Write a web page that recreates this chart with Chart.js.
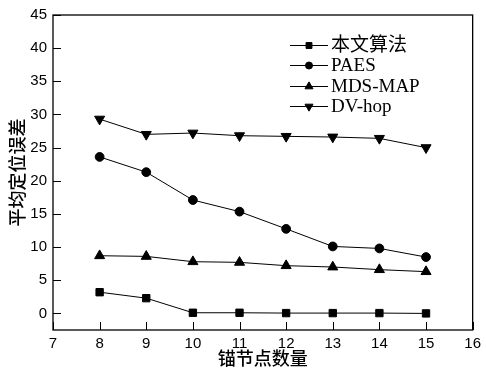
<!DOCTYPE html>
<html>
<head>
<meta charset="utf-8">
<script src="https://cdn.jsdelivr.net/npm/chart.js@4/dist/chart.umd.min.js"></script>
<style>
  html, body { margin: 0; padding: 0; background: #ffffff; }
  #wrap { width: 486px; height: 372px; position: relative; }
</style>
</head>
<body>
<div id="wrap"><canvas id="c"></canvas></div>
<script>
// Anchor node count (x) and mean localisation error (y) for each algorithm
const anchorCounts = [8, 9, 10, 11, 12, 13, 14, 15];
const oursError    = [3.2, 2.3, 0.1, 0.1, 0.05, 0.05, 0.05, 0.0];
const paesError    = [23.6, 21.3, 17.1, 15.35, 12.75, 10.1, 9.8, 8.5];
const mdsMapError  = [8.7, 8.6, 7.8, 7.7, 7.2, 7.0, 6.6, 6.3];
const dvHopError   = [29.3, 27.0, 27.2, 26.8, 26.7, 26.6, 26.4, 25.0];
const seriesNames  = ['本文算法', 'PAES', 'MDS-MAP', 'DV-hop'];
const xTickValues  = [7, 8, 9, 10, 11, 12, 13, 14, 15, 16];
const yTickValues  = [0, 5, 10, 15, 20, 25, 30, 35, 40, 45];
const xTitle = '锚节点数量';
const yTitle = '平均定位误差';

const toPoints = vals => anchorCounts.map((x, i) => ({ x: x, y: vals[i] }));

const markerStyles = [
  { pointStyle: 'rect', radius: 5.2, rotation: 0 },
  { pointStyle: 'circle', radius: 4.4, rotation: 0 },
  { pointStyle: 'triangle', radius: 5.8, rotation: 0 },
  { pointStyle: 'triangle', radius: 5.8, rotation: 180 }
];
const seriesValues = [oursError, paesError, mdsMapError, dvHopError];

const datasets = seriesValues.map((vals, i) => ({
  label: seriesNames[i],
  data: toPoints(vals),
  borderColor: '#000',
  backgroundColor: '#000',
  borderWidth: 1,
  pointStyle: markerStyles[i].pointStyle,
  pointRadius: markerStyles[i].radius,
  pointRotation: markerStyles[i].rotation,
  pointBackgroundColor: '#000',
  pointBorderColor: '#000',
  pointBorderWidth: 1,
  tension: 0
}));

const tickFont = { family: '"Liberation Sans", Arial, sans-serif', size: 15 };
const titleFont = { family: '"Noto Sans CJK SC", sans-serif', size: 18, weight: '500' };
const hiddenGrid = { display: true, drawOnChartArea: false, drawTicks: false, color: 'rgba(0,0,0,0)' };

// Frame around the plot area plus inward-pointing tick marks
const framePlugin = {
  id: 'frame',
  afterDraw(chart) {
    const { ctx, chartArea: a, scales } = chart;
    ctx.save();
    ctx.strokeStyle = '#000';
    ctx.lineWidth = 1.3;
    ctx.strokeRect(a.left, a.top, a.right - a.left, a.bottom - a.top);
    ctx.lineWidth = 1;
    const len = 8;
    ctx.beginPath();
    xTickValues.forEach(v => {
      const px = Math.round(scales.x.getPixelForValue(v)) + 0.5;
      ctx.moveTo(px, a.bottom);
      ctx.lineTo(px, a.bottom - len);
    });
    yTickValues.forEach(v => {
      const py = Math.round(scales.y.getPixelForValue(v)) + 0.5;
      ctx.moveTo(a.left, py);
      ctx.lineTo(a.left + len, py);
    });
    ctx.stroke();
    ctx.restore();
  }
};

// Legend drawn inside the plot area
const insideLegend = {
  id: 'insideLegend',
  afterDraw(chart) {
    const { ctx, chartArea: a } = chart;
    const x0 = a.left + 237, x1 = a.left + 275, tx = a.left + 278;
    const y0 = a.top + 30, step = 20.3;
    ctx.save();
    ctx.fillStyle = '#000';
    ctx.strokeStyle = '#000';
    ctx.font = '19px "Liberation Serif", "Noto Sans CJK SC", serif';
    ctx.textBaseline = 'middle';
    chart.data.datasets.forEach((ds, i) => {
      const y = y0 + i * step;
      ctx.lineWidth = 1;
      ctx.beginPath();
      ctx.moveTo(x0, Math.round(y) + 0.5);
      ctx.lineTo(x1, Math.round(y) + 0.5);
      ctx.stroke();
      Chart.helpers.drawPoint(ctx, {
        pointStyle: ds.pointStyle,
        radius: ds.pointRadius * 0.8,
        rotation: ds.pointRotation,
        borderWidth: 1
      }, (x0 + x1) / 2, Math.round(y) + 0.5);
      ctx.fillText(ds.label, tx, y + 1);
    });
    ctx.restore();
  }
};

new Chart(document.getElementById('c'), {
  type: 'line',
  data: { datasets: datasets },
  plugins: [framePlugin, insideLegend],
  options: {
    responsive: true,
    maintainAspectRatio: false,
    animation: false,
    layout: { padding: { top: 15, right: 8, left: 0, bottom: 0 } },
    plugins: { legend: { display: false }, tooltip: { enabled: false } },
    scales: {
      x: {
        type: 'linear',
        min: 7, max: 16,
        afterBuildTicks: s => { s.ticks = xTickValues.map(v => ({ value: v })); },
        afterFit: s => { s.height = 42; },
        grid: hiddenGrid,
        border: { display: false },
        ticks: { font: tickFont, color: '#000', padding: 5, maxRotation: 0, autoSkip: false },
        title: { display: true, text: xTitle, font: titleFont, color: '#000', padding: { top: 0, bottom: 3 } }
      },
      y: {
        type: 'linear',
        min: -2.5, max: 45,
        afterBuildTicks: s => { s.ticks = yTickValues.map(v => ({ value: v })); },
        afterFit: s => { s.width = 53; },
        grid: hiddenGrid,
        border: { display: false },
        ticks: { font: tickFont, color: '#000', padding: 6 },
        title: { display: true, text: yTitle, font: titleFont, color: '#000', padding: { top: 6, bottom: 0 } }
      }
    }
  }
});
</script>
</body>
</html>
